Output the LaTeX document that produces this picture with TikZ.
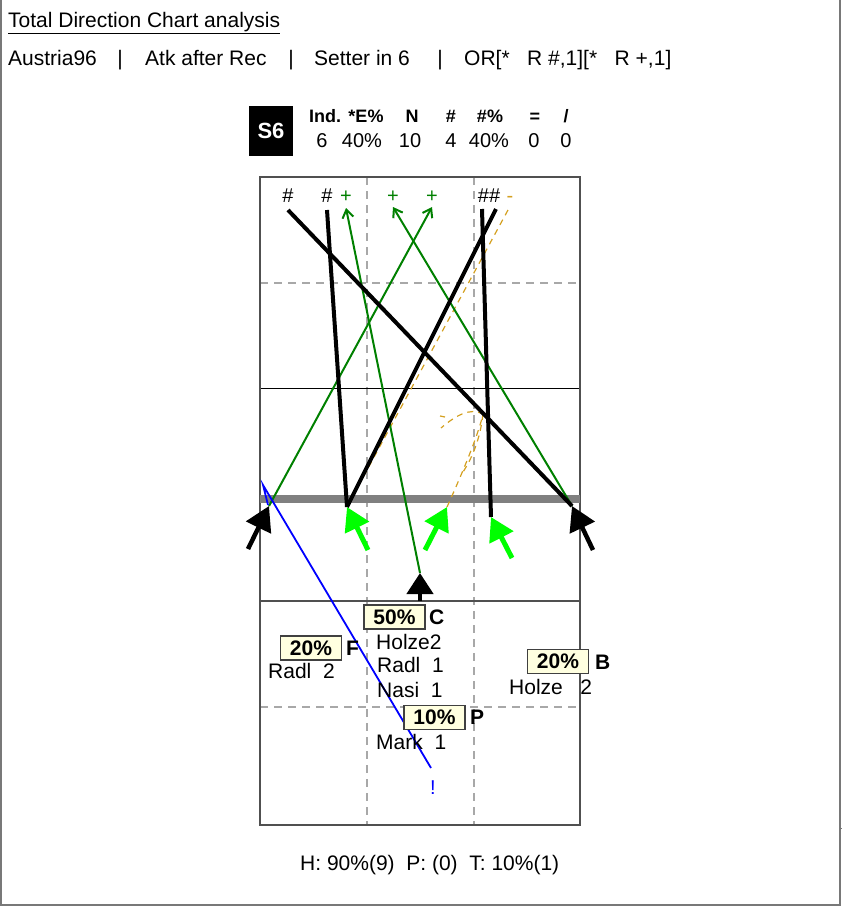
\documentclass[tikz,border=0pt]{standalone}
\usepackage{fontspec}
\setmainfont{Liberation Sans}
\usepackage{tikz}
\usetikzlibrary{arrows.meta}

\newcommand{\fLab}{\fontsize{21}{25}\selectfont}
\newcommand{\fHead}{\fontsize{18}{21}\selectfont}
\newcommand{\fVal}{\fontsize{20}{24}\selectfont}
\newcommand{\fMark}{\fontsize{20}{23}\selectfont}

\begin{document}
\begin{tikzpicture}[x=1pt,y=-1pt,
  attBlack/.style={black, line width=4pt},
  attGreen/.style={colGreen, line width=2pt, -{Straight Barb[length=8pt,width=11pt]}},
  attGold/.style={colGold, line width=1.2pt, dash pattern=on 6pt off 5pt},
  startBlack/.style={black, line width=4.5pt, -{Triangle[length=24pt,width=27pt]}},
  startLime/.style={colLime, line width=5pt, -{Triangle[length=23pt,width=26pt]}},
  pctBox/.style={draw=boxBorder, fill=colBox, line width=1.2pt, font=\fLab\bfseries,
    minimum width=61pt, minimum height=24pt, inner sep=0pt},
  zoneTxt/.style={font=\fLab\bfseries, anchor=west, inner sep=0pt},
  nameTxt/.style={font=\fLab, anchor=base west, inner sep=0pt},
  headTxt/.style={font=\fHead\bfseries, anchor=base, inner sep=0pt},
  valTxt/.style={font=\fVal, anchor=base, inner sep=0pt},
  markTxt/.style={font=\fMark, inner sep=0pt},
  gridDash/.style={dashGray, line width=1.3pt, dash pattern=on 8pt off 6pt}
]

% Colori
\definecolor{colGreen}{HTML}{008000}
\definecolor{colLime}{HTML}{00FF00}
\definecolor{colGold}{HTML}{D4A020}
\definecolor{colBlue}{HTML}{0000FF}
\definecolor{colBox}{HTML}{FFFFE0}
\definecolor{boxBorder}{HTML}{404040}
\definecolor{bandGray}{HTML}{808080}
\definecolor{dashGray}{HTML}{A8A8A8}
\definecolor{courtGray}{HTML}{505050}
\definecolor{frameGray}{HTML}{787878}

\useasboundingbox (0,0) rectangle (842,906);

% Cornice
\draw[frameGray, line width=1.5pt] (1,0) -- (1,905) -- (840,905) -- (840,0);
\draw[frameGray, line width=1pt] (840,828) -- (842,828);

% Titolo e filtri
\node[font=\fLab, anchor=base west, inner sep=0pt] (titolo) at (8,27) {\underline{Total Direction Chart analysis}};
\node[nameTxt] (squadra) at (8,65) {Austria96};
\node[font=\fLab, anchor=base, inner sep=0pt] (sepA) at (120,65) {|};
\node[nameTxt] (fase) at (145,65) {Atk after Rec};
\node[font=\fLab, anchor=base, inner sep=0pt] (sepB) at (291,65) {|};
\node[nameTxt] (palleggio) at (314,65) {Setter in 6};
\node[font=\fLab, anchor=base, inner sep=0pt] (sepC) at (440,65) {|};
\node[nameTxt] (filtro) at (464,65) {OR[*\ \ \ R \#,1][*\ \ \ R +,1]};

% Statistiche
\node[fill=black, text=white, font=\fontsize{22}{26}\selectfont\bfseries,
  minimum width=44pt, minimum height=50pt, inner sep=0pt] (rot) at (271,131) {S6};
\node[headTxt] (hInd) at (325,122) {Ind.};
\node[headTxt] (hEff) at (366,122) {*E\%};
\node[headTxt] (hN) at (412,122) {N};
\node[headTxt] (hPt) at (451,122) {\#};
\node[headTxt] (hPtPc) at (490,122) {\#\%};
\node[headTxt] (hEq) at (535,122) {=};
\node[headTxt] (hSl) at (566,122) {/};
\node[valTxt] (vInd) at (322,147) {6};
\node[valTxt] (vEff) at (362,147) {40\%};
\node[valTxt] (vN) at (410,147) {10};
\node[valTxt] (vPt) at (451,147) {4};
\node[valTxt] (vPtPc) at (489,147) {40\%};
\node[valTxt] (vEq) at (534,147) {0};
\node[valTxt] (vSl) at (566,147) {0};

% Campo
\draw[gridDash] (260,283) -- (580,283);
\draw[gridDash] (260,707) -- (580,707);
\draw[gridDash] (367,177) -- (367,825);
\draw[gridDash] (474,177) -- (474,825);
\draw[black, line width=1pt] (260,388) -- (580,388);
\draw[courtGray, line width=1.5pt] (260,601) -- (580,601);
\draw[courtGray, line width=1.5pt] (260,177) rectangle (580,825);
\fill[bandGray] (260,495) rectangle (580,503);

% Punti di partenza e di arrivo
\coordinate (tipL) at (269,506);
\coordinate (tipR) at (572,506);
\coordinate (tipC) at (420,573);
\coordinate (tipG1) at (347,507);
\coordinate (tipG2) at (447,507);
\coordinate (tipG3) at (491,517);
\coordinate (tailL) at (248,549);
\coordinate (tailR) at (593,550);
\coordinate (tailC) at (420,601);
\coordinate (tailG1) at (368,550);
\coordinate (tailG2) at (425,550);
\coordinate (tailG3) at (512,558);
\coordinate (endA) at (288,210);
\coordinate (endB) at (327,210);
\coordinate (endC) at (346,208);
\coordinate (endD) at (393,207);
\coordinate (endE) at (432,207);
\coordinate (endF1) at (482,209);
\coordinate (endF2) at (496,209);
\coordinate (endG) at (508,210);

% Esiti
\node[markTxt] (mkA) at (288,196) {\#};
\node[markTxt] (mkB) at (327,196) {\#};
\node[markTxt, text=colGreen] (mkC) at (346,197) {+};
\node[markTxt, text=colGreen] (mkD) at (393,197) {+};
\node[markTxt, text=colGreen] (mkE) at (432,197) {+};
\node[markTxt] (mkF) at (489,196) {\#\#};
\node[markTxt, text=colGold] (mkG) at (510,199) {-};

% Traiettorie
\draw[attGold] (endG) -- (tipG1);
\draw[attGold] (tipG2) .. controls (466,465) and (479,432) .. (483,414)
  .. controls (470,407) and (455,416) .. (441,428);
\draw[attGold] (483,414) .. controls (480,440) and (472,458) .. (463,472);
\draw[colGold, line width=1.2pt] (440,416) -- (445,417);
\draw[attGreen] (tipL) -- (endE);
\draw[attGreen] (tipR) -- (endD);
\draw[attGreen] (tipC) -- (endC);
\draw[attBlack] (endA) -- (tipR);
\draw[attBlack] (endB) -- (tipG1);
\draw[attBlack] (endF1) -- (tipG3);
\draw[attBlack] (endF2) -- (tipG1);

% Errore
\coordinate (blueA) at (268,505);
\coordinate (blueB) at (263,485);
\coordinate (blueC) at (431,768);
\draw[colBlue, line width=1.8pt] (blueA) -- (blueB) -- (blueC);
\node[markTxt, text=colBlue] (mkErr) at (433,788) {!};

% Frecce di partenza
\draw[startBlack] (tailL) -- (tipL);
\draw[startBlack] (tailR) -- (tipR);
\draw[startBlack, -{Triangle[length=21pt,width=26pt]}] (tailC) -- (tipC);
\draw[startLime] (tailG1) -- (tipG1);
\draw[startLime] (tailG2) -- (tipG2);
\draw[startLime] (tailG3) -- (tipG3);

% Zone e attaccanti
\node[pctBox] (boxC) at (394.5,617) {50\%};
\node[zoneTxt] (zonaC) at (429,617) {C};
\node[nameTxt] (holzeC) at (376,649) {Holze2};
\node[nameTxt] (radlC) at (377,672) {Radl\ \ 1};
\node[nameTxt] (nasiC) at (377,697) {Nasi\ \ 1};

\node[pctBox] (boxF) at (311,648) {20\%};
\node[zoneTxt] (zonaF) at (346,648) {F};
\node[nameTxt] (radlF) at (268,678) {Radl\ \ 2};

\node[pctBox] (boxP) at (434.5,717.5) {10\%};
\node[zoneTxt] (zonaP) at (470,717) {P};
\node[nameTxt] (markP) at (376,749) {Mark\ \ 1};

\node[pctBox] (boxB) at (558,661.5) {20\%};
\node[zoneTxt] (zonaB) at (595,662) {B};
\node[nameTxt] (holzeB) at (509,694) {Holze\ \ \ 2};

% Totali
\node[nameTxt] (totali) at (300,870) {H: 90\%(9)\ \ P: (0)\ \ T: 10\%(1)};

\end{tikzpicture}
\end{document}
